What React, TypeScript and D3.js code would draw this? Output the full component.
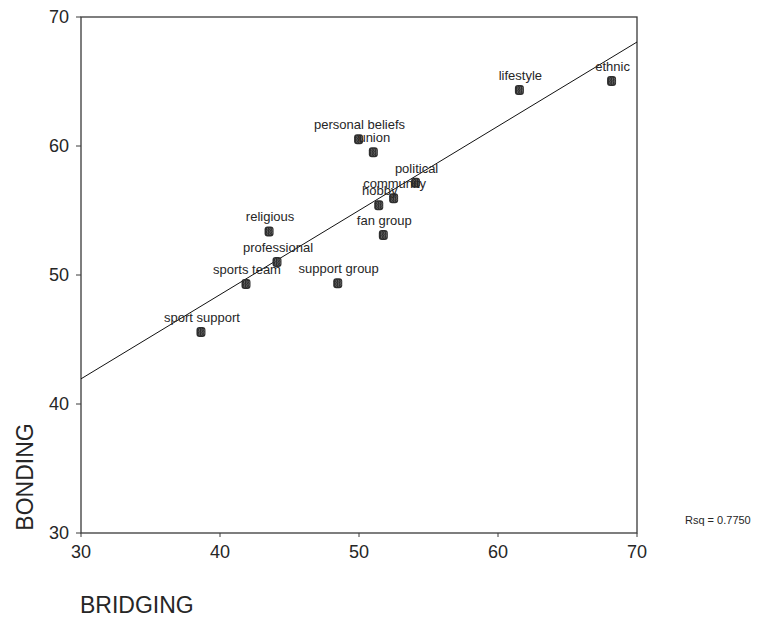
import React from "react";
import * as d3 from "d3";

const labels = [
  "sport support", "sports team", "professional", "religious", "support group",
  "fan group", "hobby", "community", "political", "union", "personal beliefs",
  "lifestyle", "ethnic",
];
const bridging = [38.63, 41.87, 44.1, 43.53, 48.47, 51.75, 51.42, 52.49, 54.07, 51.03, 49.97, 61.54, 68.17];
const bonding = [45.58, 49.3, 51.0, 53.38, 49.36, 53.1, 55.4, 55.94, 57.15, 59.51, 60.52, 64.34, 65.04];
const xTicks = [30, 40, 50, 60, 70];
const yTicks = [30, 40, 50, 60, 70];
const fitX = [30, 70];
const fitY = [41.95, 68.06];
const rsqText = "Rsq = 0.7750";

const W = 767;
const H = 618;
const FONT = "'Liberation Sans', Arial, Helvetica, sans-serif";

export default function App() {
  const x = d3.scaleLinear().domain([30, 70]).range([81, 637]);
  const y = d3.scaleLinear().domain([30, 70]).range([533, 17]);
  const line = d3
    .line<number>()
    .x((_, i) => x(fitX[i]))
    .y((d) => y(d));
  const textColor = "#262626";
  const axisColor = "#3a3a3a";

  return (
    <svg
      width={W}
      height={H}
      style={{ position: "absolute", left: 0, top: 0, background: "#fff" }}
      fontFamily={FONT}
    >
      <defs>
        <clipPath id="plotClip">
          <rect x={x(30)} y={y(70)} width={x(70) - x(30)} height={y(30) - y(70)} />
        </clipPath>
      </defs>
      {/* frame */}
      <rect
        x={x(30)}
        y={y(70)}
        width={x(70) - x(30)}
        height={y(30) - y(70)}
        fill="none"
        stroke={axisColor}
        strokeWidth={1.3}
      />
      {/* y ticks */}
      {yTicks.map((t) => (
        <g key={"y" + t}>
          <line x1={x(30) - 5} x2={x(30)} y1={y(t)} y2={y(t)} stroke={axisColor} strokeWidth={1} />
          <text x={69} y={y(t)} dy="0.35em" textAnchor="end" fontSize={18} fill={textColor}>
            {t}
          </text>
        </g>
      ))}
      {/* x ticks */}
      {xTicks.map((t) => (
        <g key={"x" + t}>
          <line x1={x(t)} x2={x(t)} y1={y(30)} y2={y(30) + 4} stroke={axisColor} strokeWidth={1} />
          <text x={x(t)} y={557.5} textAnchor="middle" fontSize={18} fill={textColor}>
            {t}
          </text>
        </g>
      ))}
      {/* fit line */}
      <path
        d={line(fitY) || ""}
        fill="none"
        stroke="#111"
        strokeWidth={1}
        clipPath="url(#plotClip)"
      />
      {/* points */}
      {labels.map((lab, i) => {
        const cx = x(bridging[i]);
        const cy = y(bonding[i]);
        return (
          <g key={lab}>
            <rect x={cx - 4.5} y={cy - 5} width={9} height={10} rx={3} fill="#2e2e2e" />
            <path
              d={`M${cx - 2},${cy - 3.5} l0.8,1.4 l-0.8,1.4 l0.8,1.4 l-0.8,1.4 l0.8,1.4 M${cx + 0.5},${cy - 3.5} l0.8,1.4 l-0.8,1.4 l0.8,1.4 l-0.8,1.4 l0.8,1.4 M${cx + 2.8},${cy - 3} l0.6,1.4 l-0.6,1.4 l0.6,1.4 l-0.6,1.4`}
              fill="none"
              stroke="#8a8a8a"
              strokeWidth={0.6}
            />
          </g>
        );
      })}
      {/* labels */}
      {labels.map((lab, i) => (
        <text
          key={"t" + lab}
          x={x(bridging[i]) + 1}
          y={y(bonding[i]) - 10}
          textAnchor="middle"
          fontSize={13}
          fill={textColor}
        >
          {lab}
        </text>
      ))}
      {/* axis titles */}
      <text
        transform={`translate(33, 477) rotate(-90)`}
        textAnchor="middle"
        fontSize={23}
        fill={textColor}
      >
        BONDING
      </text>
      <text x={80} y={613} fontSize={23} fill={textColor}>
        BRIDGING
      </text>
      <text x={685} y={524} fontSize={11} fill={textColor}>
        {rsqText}
      </text>
    </svg>
  );
}
